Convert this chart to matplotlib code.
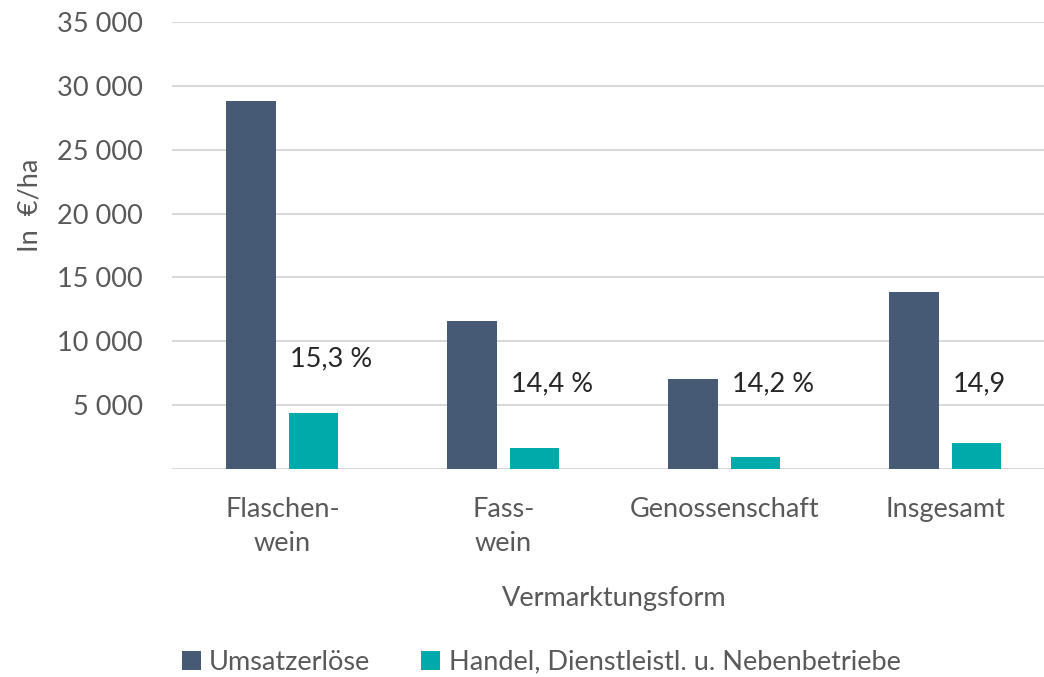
import matplotlib.pyplot as plt
import numpy as np

plt.rcParams['font.family'] = ['Lato', 'DejaVu Sans']

# data
categories = ['Flaschen-\nwein', 'Fass-\nwein', 'Genossenschaft', 'Insgesamt']
umsatz = [28800, 11600, 7050, 13850]
handel = [4400, 1650, 950, 2050]
share_labels = ['15,3 %', '14,4 %', '14,2 %', '14,9']
yticks = [5000, 10000, 15000, 20000, 25000, 30000, 35000]

dark = '#465A75'
teal = '#00AAAA'
grey = '#595959'
fs = 19.5

fig = plt.figure(figsize=(10.44, 6.77), dpi=100)
ax = fig.add_axes([172/1044, 208/677, 884/1044, 447/677])

x = np.arange(len(categories))
w = 0.222
ax.bar(x - 0.1425, umsatz, w, color=dark, label='Umsatzerlöse', zorder=3)
ax.bar(x + 0.1405, handel, w, color=teal, label='Handel, Dienstleistl. u. Nebenbetriebe', zorder=3)

# share labels next to the small bars
label_y = [8600, 6650, 6650, 6650]
for i in range(len(categories)):
    ax.text(x[i] + 0.035, label_y[i], share_labels[i], fontsize=fs, color='#262626',
            va='center', ha='left')

ax.set_xlim(-0.5, 3.5)
ax.set_ylim(0, 35000)
ax.set_yticks(yticks)
ax.set_yticklabels([f'{v:,}'.replace(',', ' ') for v in yticks], fontsize=fs, color=grey)
ax.set_xticks(x)
ax.set_xticklabels(categories, fontsize=fs, color=grey, linespacing=1.45)
ax.tick_params(length=0)
ax.tick_params(axis='y', pad=21)
ax.tick_params(axis='x', pad=20)
ax.axhline(0, color='#D9D9D9', lw=1.5, zorder=2)
ax.grid(axis='y', color='#D9D9D9', lw=1.5, zorder=0)
for s in ax.spines.values():
    s.set_visible(False)

ax.set_xlabel('Vermarktungsform', fontsize=fs, color=grey, labelpad=22)
fig.text(30/1044, 1 - 205/677, 'In  €/ha', rotation=90, fontsize=fs, color=grey,
         ha='center', va='center')

fig.legend(loc='center', bbox_to_anchor=(541/1044, 1 - 662/677), ncol=2, frameon=False,
           fontsize=fs, handlelength=0.7, handleheight=0.7, handletextpad=0.3,
           columnspacing=1.9, labelcolor=grey)

fig.savefig('out.png', dpi=100)
